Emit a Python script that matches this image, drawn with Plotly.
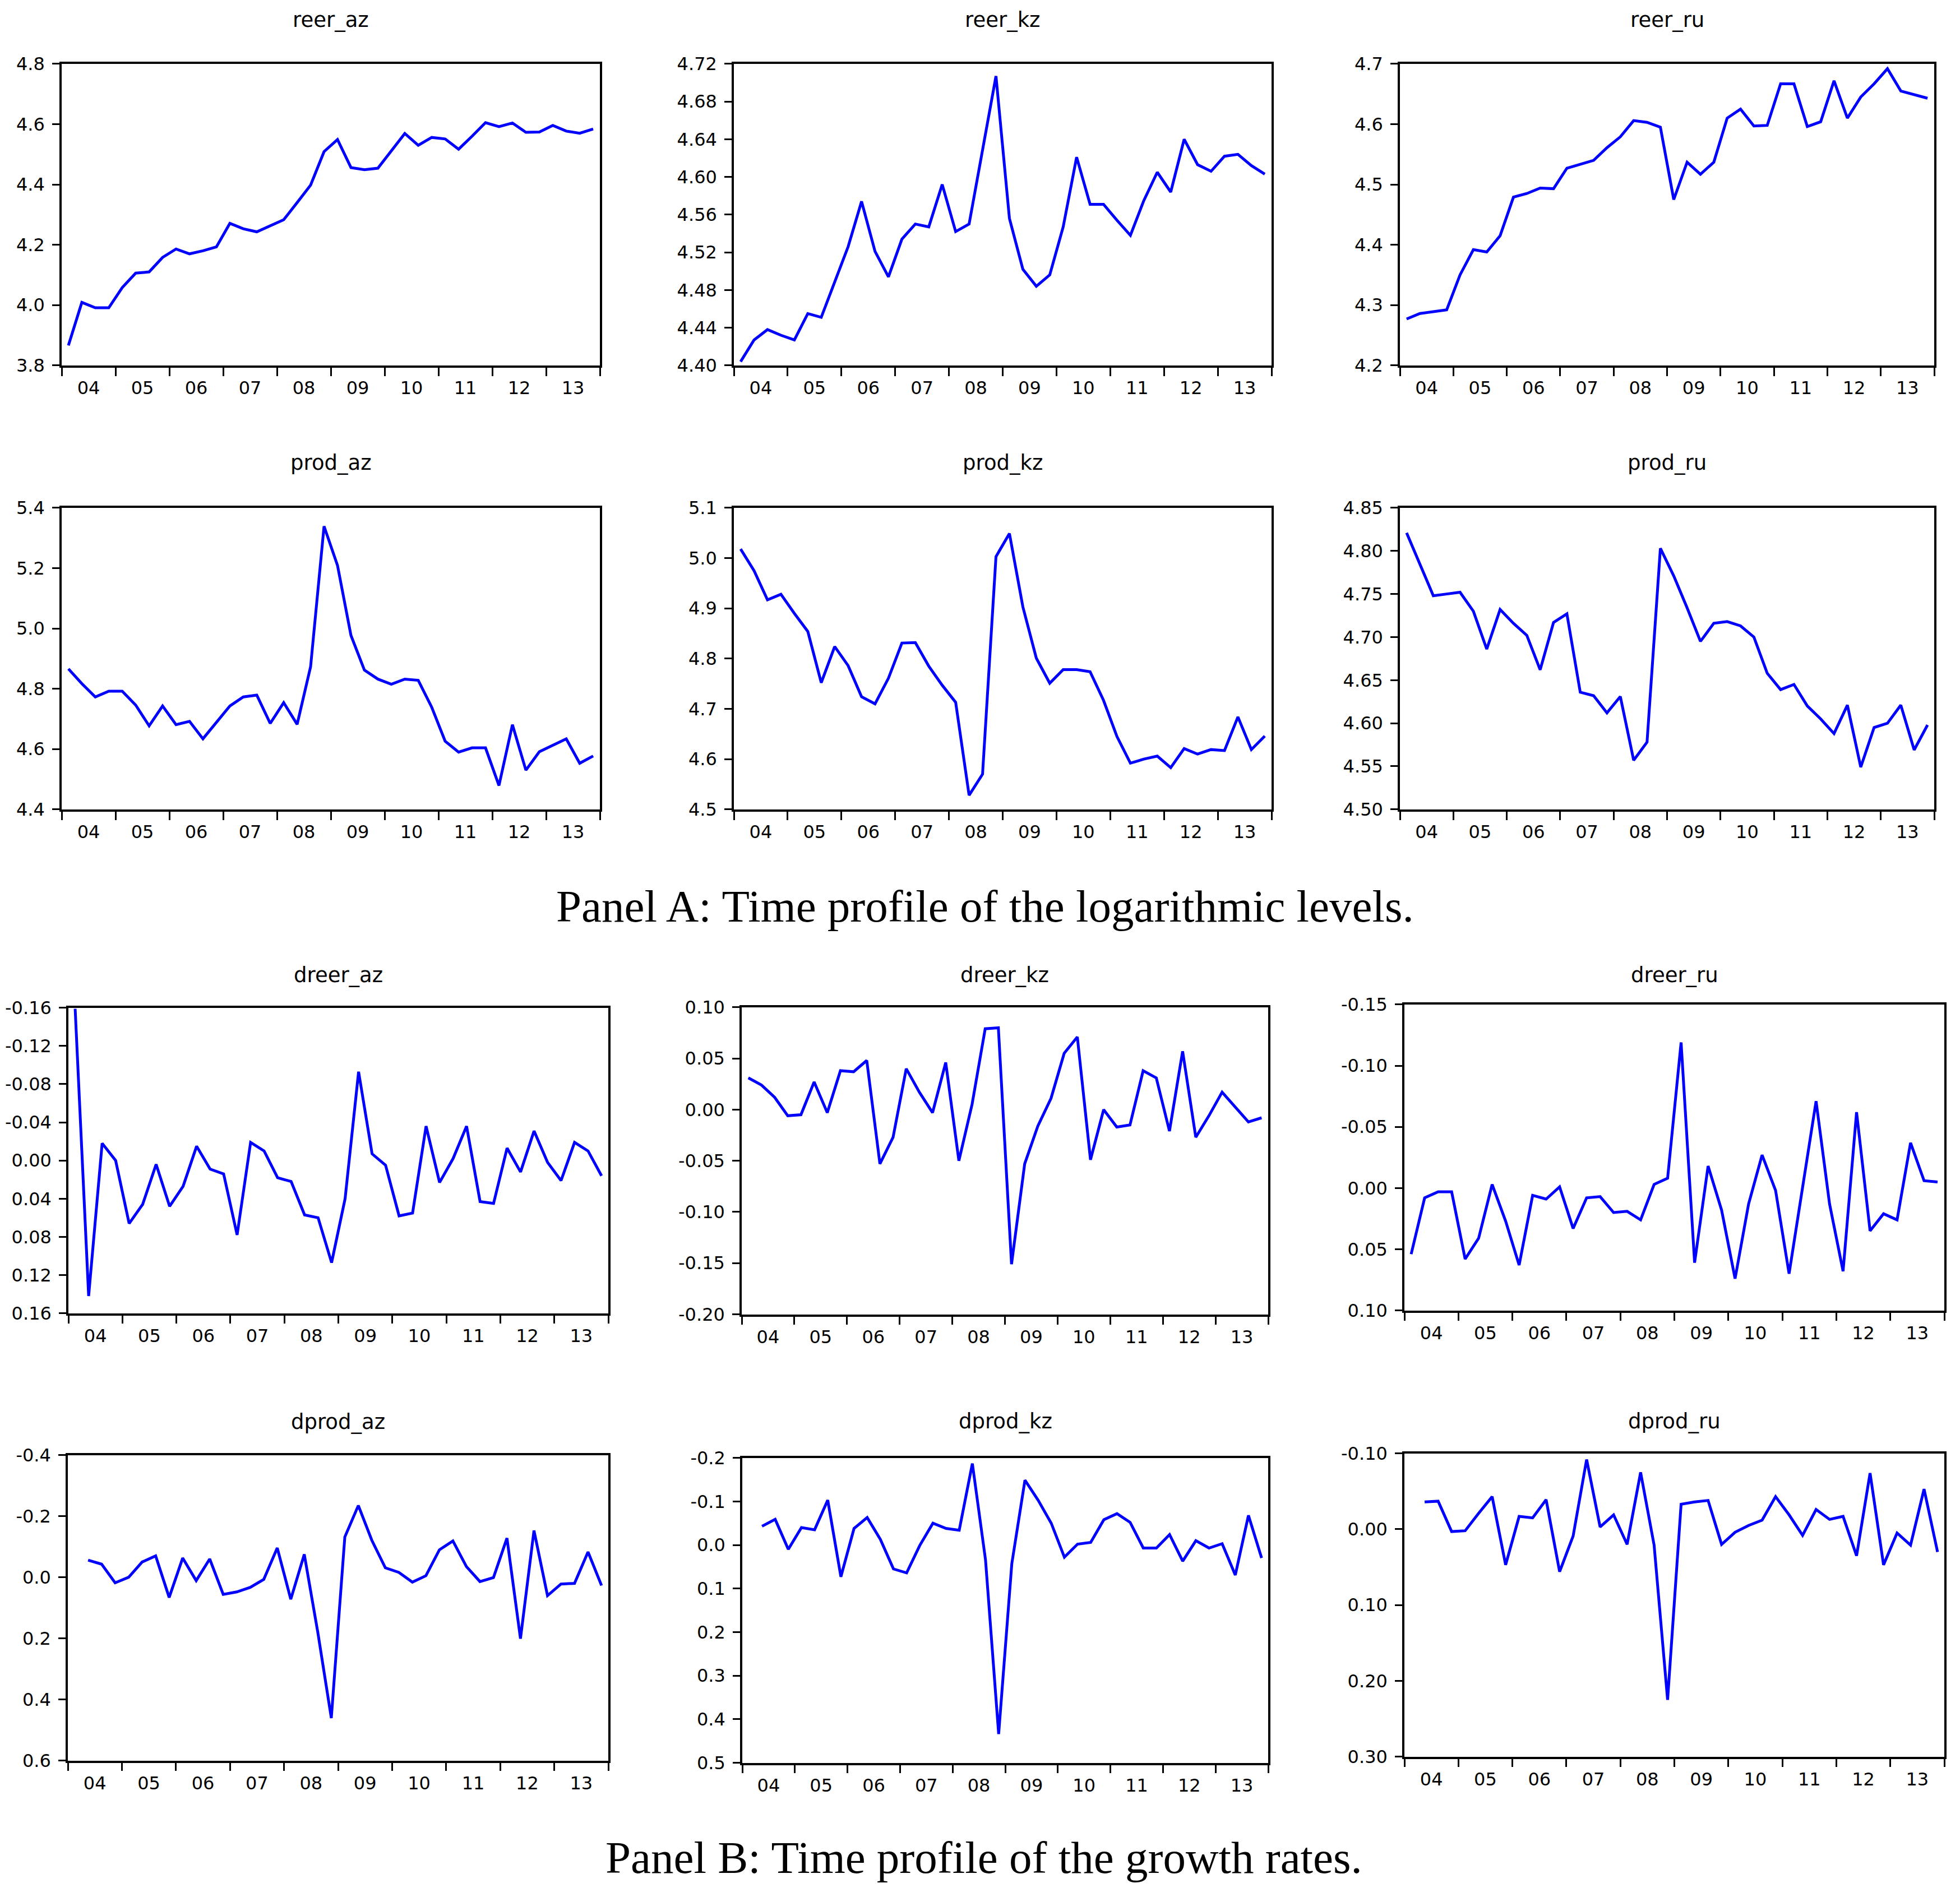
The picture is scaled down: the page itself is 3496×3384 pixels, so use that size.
import plotly.graph_objects as go

# quarterly observations, 2004Q1 .. 2013Q4
quarters = list(range(40))
year_labels = ["04", "05", "06", "07", "08", "09", "10", "11", "12", "13"]

# Panel A: logarithmic levels
reer_az = [3.866, 4.009, 3.991, 3.991, 4.058, 4.106, 4.110, 4.158, 4.186, 4.170,
           4.180, 4.193, 4.271, 4.253, 4.243, 4.262, 4.283, 4.340, 4.398, 4.509,
           4.549, 4.456, 4.449, 4.454, 4.511, 4.569, 4.530, 4.556, 4.551, 4.517,
           4.560, 4.605, 4.592, 4.604, 4.573, 4.574, 4.596, 4.577, 4.570, 4.584]
reer_kz = [4.404, 4.427, 4.438, 4.432, 4.427, 4.455, 4.451, 4.489, 4.526, 4.574,
           4.521, 4.494, 4.534, 4.550, 4.547, 4.592, 4.542, 4.550, 4.628, 4.707,
           4.556, 4.502, 4.484, 4.496, 4.547, 4.621, 4.571, 4.571, 4.554, 4.538,
           4.575, 4.605, 4.584, 4.640, 4.613, 4.606, 4.622, 4.624, 4.612, 4.603]
reer_ru = [4.277, 4.286, 4.289, 4.292, 4.350, 4.392, 4.388, 4.415, 4.479, 4.485,
           4.494, 4.493, 4.527, 4.533, 4.540, 4.561, 4.579, 4.606, 4.603, 4.595,
           4.475, 4.537, 4.517, 4.537, 4.610, 4.625, 4.597, 4.598, 4.667, 4.667,
           4.596, 4.604, 4.672, 4.610, 4.645, 4.667, 4.692, 4.655, 4.649, 4.643]
prod_az = [4.866, 4.817, 4.773, 4.792, 4.792, 4.746, 4.677, 4.743, 4.681, 4.692,
           4.634, 4.689, 4.743, 4.773, 4.779, 4.685, 4.754, 4.682, 4.873, 5.339,
           5.209, 4.977, 4.862, 4.832, 4.815, 4.832, 4.828, 4.739, 4.626, 4.590,
           4.604, 4.604, 4.479, 4.681, 4.530, 4.591, 4.613, 4.634, 4.553, 4.577]
prod_kz = [5.018, 4.975, 4.917, 4.928, 4.890, 4.854, 4.752, 4.824, 4.786, 4.724,
           4.710, 4.761, 4.831, 4.832, 4.785, 4.747, 4.713, 4.528, 4.570, 5.003,
           5.049, 4.903, 4.801, 4.751, 4.778, 4.778, 4.774, 4.717, 4.645, 4.592,
           4.600, 4.606, 4.583, 4.621, 4.610, 4.619, 4.617, 4.684, 4.619, 4.646]
prod_ru = [4.821, 4.784, 4.748, 4.750, 4.752, 4.730, 4.686, 4.732, 4.716, 4.702,
           4.662, 4.717, 4.727, 4.636, 4.632, 4.612, 4.631, 4.557, 4.578, 4.803,
           4.771, 4.734, 4.695, 4.716, 4.718, 4.713, 4.700, 4.658, 4.639, 4.645,
           4.620, 4.605, 4.588, 4.621, 4.549, 4.595, 4.600, 4.621, 4.569, 4.598]

# Panel B: growth rates
dreer_az = [-0.159, 0.142, -0.018, 0.000, 0.066, 0.046, 0.004, 0.048, 0.027, -0.015,
            0.009, 0.014, 0.078, -0.019, -0.010, 0.018, 0.022, 0.057, 0.060, 0.107,
            0.040, -0.093, -0.007, 0.005, 0.058, 0.055, -0.036, 0.023, -0.002, -0.036,
            0.043, 0.045, -0.013, 0.012, -0.031, 0.002, 0.021, -0.019, -0.010, 0.016]
dreer_kz = [0.031, 0.024, 0.012, -0.006, -0.005, 0.027, -0.003, 0.038, 0.037, 0.048,
            -0.053, -0.027, 0.040, 0.017, -0.003, 0.046, -0.050, 0.005, 0.079, 0.080,
            -0.151, -0.053, -0.016, 0.011, 0.055, 0.071, -0.049, 0.000, -0.017, -0.015,
            0.038, 0.031, -0.021, 0.057, -0.027, -0.006, 0.017, 0.002, -0.012, -0.008]
dreer_ru = [0.054, 0.008, 0.003, 0.003, 0.058, 0.041, -0.003, 0.027, 0.063, 0.006,
            0.009, -0.001, 0.033, 0.008, 0.007, 0.020, 0.019, 0.026, -0.003, -0.008,
            -0.119, 0.061, -0.018, 0.018, 0.074, 0.013, -0.027, 0.002, 0.070, 0.000,
            -0.071, 0.013, 0.068, -0.062, 0.035, 0.021, 0.026, -0.037, -0.006, -0.005]
# first difference: starts in 2004Q2
dprod_az = [-0.056, -0.043, 0.018, 0.000, -0.050, -0.070, 0.066, -0.063, 0.011, -0.060,
            0.056, 0.048, 0.033, 0.007, -0.096, 0.072, -0.075, 0.180, 0.461, -0.132,
            -0.235, -0.121, -0.031, -0.016, 0.016, -0.005, -0.090, -0.119, -0.035, 0.014,
            0.001, -0.128, 0.201, -0.153, 0.060, 0.022, 0.020, -0.083, 0.027]
dprod_kz = [-0.043, -0.059, 0.010, -0.040, -0.035, -0.103, 0.073, -0.038, -0.063, -0.013,
            0.055, 0.064, 0.001, -0.050, -0.038, -0.034, -0.187, 0.034, 0.434, 0.043,
            -0.149, -0.103, -0.050, 0.028, -0.002, -0.006, -0.058, -0.072, -0.052, 0.007,
            0.007, -0.024, 0.037, -0.010, 0.007, -0.003, 0.069, -0.068, 0.030]
dprod_ru = [-0.036, -0.037, 0.003, 0.002, -0.021, -0.043, 0.047, -0.017, -0.015, -0.039,
            0.056, 0.009, -0.092, -0.003, -0.019, 0.020, -0.075, 0.021, 0.225, -0.033,
            -0.036, -0.038, 0.020, 0.004, -0.005, -0.012, -0.043, -0.019, 0.008, -0.026,
            -0.013, -0.017, 0.035, -0.074, 0.047, 0.005, 0.021, -0.053, 0.030]

# y tick values per chart
ticks_reer_az = [3.8, 4.0, 4.2, 4.4, 4.6, 4.8]
ticks_reer_kz = [4.40, 4.44, 4.48, 4.52, 4.56, 4.60, 4.64, 4.68, 4.72]
ticks_reer_ru = [4.2, 4.3, 4.4, 4.5, 4.6, 4.7]
ticks_prod_az = [4.4, 4.6, 4.8, 5.0, 5.2, 5.4]
ticks_prod_kz = [4.5, 4.6, 4.7, 4.8, 4.9, 5.0, 5.1]
ticks_prod_ru = [4.50, 4.55, 4.60, 4.65, 4.70, 4.75, 4.80, 4.85]
ticks_dreer_az = [-0.16, -0.12, -0.08, -0.04, 0.0, 0.04, 0.08, 0.12, 0.16]
ticks_dreer_kz = [-0.20, -0.15, -0.10, -0.05, 0.0, 0.05, 0.10]
ticks_dreer_ru = [-0.15, -0.10, -0.05, 0.0, 0.05, 0.10]
ticks_dprod_az = [-0.4, -0.2, 0.0, 0.2, 0.4, 0.6]
ticks_dprod_kz = [-0.2, -0.1, 0.0, 0.1, 0.2, 0.3, 0.4, 0.5]
ticks_dprod_ru = [-0.10, 0.0, 0.10, 0.20, 0.30]

# name, values, ticks, decimals, axis drawn with negatives on top
charts = [
    ("reer_az", reer_az, ticks_reer_az, 1, False),
    ("reer_kz", reer_kz, ticks_reer_kz, 2, False),
    ("reer_ru", reer_ru, ticks_reer_ru, 1, False),
    ("prod_az", prod_az, ticks_prod_az, 1, False),
    ("prod_kz", prod_kz, ticks_prod_kz, 1, False),
    ("prod_ru", prod_ru, ticks_prod_ru, 2, False),
    ("dreer_az", dreer_az, ticks_dreer_az, 2, True),
    ("dreer_kz", dreer_kz, ticks_dreer_kz, 2, False),
    ("dreer_ru", dreer_ru, ticks_dreer_ru, 2, True),
    ("dprod_az", dprod_az, ticks_dprod_az, 1, True),
    ("dprod_kz", dprod_kz, ticks_dprod_kz, 1, True),
    ("dprod_ru", dprod_ru, ticks_dprod_ru, 2, True),
]

W, H = 3496, 3384
# plot boxes in pixels: left, right, top, bottom
boxes = [
    (110, 1070, 96, 640), (1309, 2268, 96, 640), (2497, 3450, 96, 640),
    (110, 1070, 897, 1441), (1309, 2268, 897, 1441), (2497, 3450, 897, 1441),
    (122, 1085, 1799, 2350), (1323, 2262, 1798, 2352), (2505, 3468, 1793, 2345),
    (121, 1085, 2606, 3157), (1324, 2262, 2611, 3161), (2505, 3468, 2603, 3150),
]
title_y = [17, 17, 17, 816, 816, 816, 1740, 1740, 1740, 2546, 2545, 2545]

year_mid = [4 * i + 1.5 for i in range(10)]
year_edges = [4 * i - 0.5 for i in range(11)]

tick_font = dict(family="DejaVu Sans", size=32, color="black")

fig = go.Figure()
annotations = []
for k, (name, vals, yt, dec, flip) in enumerate(charts):
    n = k + 1
    sfx = "" if n == 1 else str(n)
    xs = quarters[len(quarters) - len(vals):]
    fig.add_trace(go.Scatter(x=xs, y=vals, mode="lines",
                             line=dict(color="#0000ff", width=5),
                             xaxis="x" + sfx, yaxis="y" + sfx,
                             showlegend=False, hoverinfo="skip"))
    l, r, t, b = boxes[k]
    xd = [l / W, r / W]
    yd = [1 - b / H, 1 - t / H]
    yrange = [yt[-1], yt[0]] if flip else [yt[0], yt[-1]]
    fig.update_layout(**{
        "xaxis" + sfx: dict(
            domain=xd, anchor="y" + sfx, range=[-0.5, 39.5],
            showline=True, linecolor="black", linewidth=3.5, mirror=True,
            showgrid=False, zeroline=False,
            tickmode="array", tickvals=year_mid, ticktext=year_labels,
            ticks="", ticklabelstandoff=9, tickfont=tick_font,
            minor=dict(tickmode="array", tickvals=year_edges, ticks="outside",
                       ticklen=15, tickwidth=3, tickcolor="black", showgrid=False),
        ),
        "yaxis" + sfx: dict(
            domain=yd, anchor="x" + sfx, range=yrange,
            showline=True, linecolor="black", linewidth=3.5, mirror=True,
            showgrid=False, zeroline=False,
            tickmode="array", tickvals=yt, ticktext=[f"{v:.{dec}f}" for v in yt],
            ticks="outside", ticklen=13, tickwidth=3, tickcolor="black",
            ticklabelstandoff=7, tickfont=tick_font,
        ),
    })
    annotations.append(dict(text=name, x=(xd[0] + xd[1]) / 2, y=1 - title_y[k] / H,
                            xref="paper", yref="paper", showarrow=False,
                            xanchor="center", yanchor="middle",
                            font=dict(family="DejaVu Sans", size=37, color="black")))

caption_font = dict(family="Liberation Serif", size=81, color="black")
annotations.append(dict(text="Panel A: Time profile of the logarithmic levels.",
                        x=0.5026, y=1 - 1616 / H, xref="paper", yref="paper",
                        showarrow=False, xanchor="center", yanchor="middle",
                        font=caption_font))
annotations.append(dict(text="Panel B: Time profile of the growth rates.",
                        x=0.502, y=1 - 3332 / H, xref="paper", yref="paper",
                        showarrow=False, xanchor="center", yanchor="middle",
                        font=caption_font))

fig.update_layout(width=W, height=H, margin=dict(l=0, r=0, t=0, b=0),
                  paper_bgcolor="white", plot_bgcolor="white",
                  annotations=annotations)

fig.write_html("out.html", config={"displayModeBar": False},
               post_script="document.body.style.margin='0';")
